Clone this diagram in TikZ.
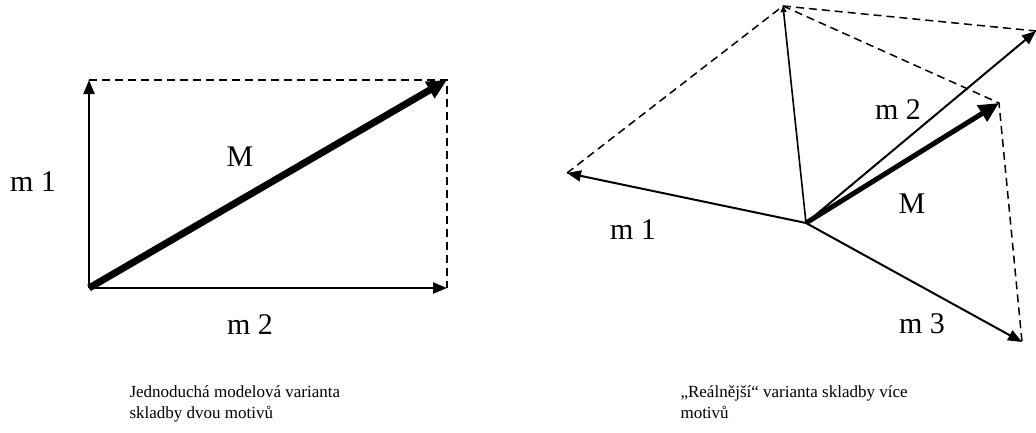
\documentclass[tikz,border=0pt]{standalone}
\usepackage{fontspec}
\setmainfont{Liberation Serif}
\usepackage{tikz}
\usetikzlibrary{arrows.meta}
\tikzstyle{vec} = [line width=2pt, -{Triangle[length=14pt,width=11pt]}]
\tikzstyle{sumvec} = [line width=7pt, -{Triangle[length=20pt,width=18pt]}]
\tikzstyle{thinvec} = [line width=1.6pt, -{Triangle[length=6pt,width=6pt]}]
\tikzstyle{helper} = [line width=1.5pt, dash pattern=on 8pt off 5pt]
\tikzstyle{lab} = [font=\fontsize{30}{34}\selectfont]
\tikzstyle{caption} = [font=\fontsize{17}{21}\selectfont, align=left, anchor=north west]

\begin{document}
\begin{tikzpicture}[x=1pt, y=-1pt]
\useasboundingbox (0,0) rectangle (1036,432);

% Simple variant: two motifs
\coordinate (o1) at (89,288);
\coordinate (a1) at (89,80);
\coordinate (b1) at (447,288);
\coordinate (c1) at (447,80);
\draw [helper] (a1) -- (c1) -- (b1);
\draw [vec] (o1) -- (a1);
\draw [vec] (o1) -- (b1);
\draw [sumvec] (o1) -- (c1);
\node (l1m1) [lab] at (33,182) {m 1};
\node (l1M) [lab] at (240,157) {M};
\node (l1m2) [lab] at (250,325) {m 2};
\node (cap1) [caption] at (126,382) {Jednoduchá modelová varianta\\skladby dvou motivů};

% More real variant: three motifs
\coordinate (o2) at (806,223);
\coordinate (t1) at (567,173);
\coordinate (p12) at (783,6);
\coordinate (t2) at (1036,31);
\coordinate (tM) at (999,103);
\coordinate (t3) at (1022,342);
\draw [helper] (t1) -- (p12) -- (t2);
\draw [helper] (p12) -- (tM) -- (t3);
\draw [vec] (o2) -- (t1);
\draw [vec] (o2) -- (t2);
\draw [vec] (o2) -- (t3);
\draw [thinvec] (o2) -- (p12);
\draw [sumvec, line width=5pt] (o2) -- (tM);
\node (l2m1) [lab] at (633,230) {m 1};
\node (l2m2) [lab] at (898,110) {m 2};
\node (l2M) [lab] at (912,204) {M};
\node (l2m3) [lab] at (922,324) {m 3};
\node (cap2) [caption] at (677,382) {,,Reálnější“ varianta skladby více\\motivů};

\end{tikzpicture}
\end{document}
